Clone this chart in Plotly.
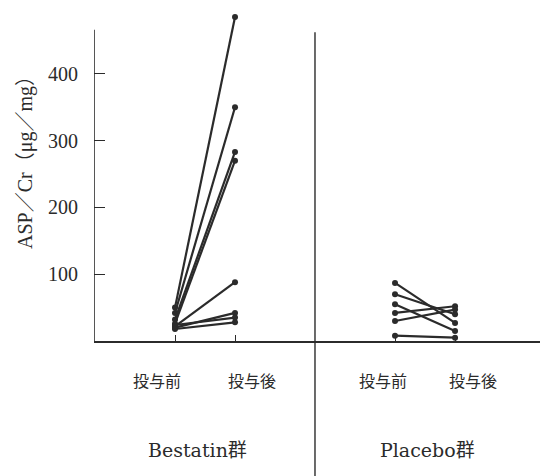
import plotly.graph_objects as go

# ASP/Cr (µg/mg) before and after administration, one line per patient
bestatin_pre = [50, 42, 32, 26, 22, 20, 24, 18]
bestatin_post = [485, 350, 283, 270, 88, 42, 35, 28]
placebo_pre = [87, 70, 55, 42, 30, 8]
placebo_post = [27, 40, 15, 52, 47, 5]

y_ticks = [100, 200, 300, 400]
phase_labels = ["投与前", "投与後"]
group_labels = ["Bestatin群", "Placebo群"]

# horizontal layout (x data units)
X_BEST = (1.0, 2.0)
X_PLAC = (4.667, 5.667)
X_MIN, X_MAX = -0.35, 7.083
X_DIVIDER = 3.333
Y_MAX = 497
Y_AXIS_TOP = 466

INK = "#2b2b2b"
SERIF = "Liberation Serif, Noto Sans CJK JP, serif"
WIDE_SERIF = "DejaVu Serif, Noto Sans CJK JP, serif"

fig = go.Figure()

for pre_vals, post_vals, xs in ((bestatin_pre, bestatin_post, X_BEST),
                                (placebo_pre, placebo_post, X_PLAC)):
    for a, b in zip(pre_vals, post_vals):
        fig.add_trace(go.Scatter(
            x=list(xs), y=[a, b], mode="lines+markers",
            line=dict(color=INK, width=2.2),
            marker=dict(color=INK, size=6),
            showlegend=False, hoverinfo="y"))

# y axis line (stops below the top of the plotting area)
fig.add_shape(type="line", xref="x", yref="y", x0=X_MIN, x1=X_MIN,
              y0=0, y1=Y_AXIS_TOP, line=dict(color=INK, width=1.6))
# divider between the two groups, running to the bottom edge
fig.add_shape(type="line", xref="x", yref="paper", x0=X_DIVIDER, x1=X_DIVIDER,
              y0=-0.45, y1=0.93, line=dict(color=INK, width=1.4))

# phase labels under each group (paper coordinates)
label_x = [(0.141, 0.354), (0.648, 0.850)]
for xs in label_x:
    for lx, txt in zip(xs, phase_labels):
        fig.add_annotation(x=lx, y=-0.121, xref="paper", yref="paper", text=txt,
                           xanchor="center", yanchor="middle", showarrow=False,
                           font=dict(family=SERIF, size=16, color=INK))
for gx, txt in zip([0.231, 0.747], group_labels):
    fig.add_annotation(x=gx, y=-0.328, xref="paper", yref="paper", text=txt,
                       xanchor="center", yanchor="middle", showarrow=False,
                       font=dict(family=WIDE_SERIF, size=19, color=INK))

# y axis title
fig.add_annotation(x=-0.155, y=0.554, xref="paper", yref="paper",
                   text="ASP／Cr（μg／mg）", textangle=-90, showarrow=False,
                   xanchor="center", yanchor="middle",
                   font=dict(family=SERIF, size=20, color=INK))

fig.update_layout(
    width=540, height=476,
    margin=dict(l=94, r=0, t=9, b=135),
    plot_bgcolor="white", paper_bgcolor="white",
    xaxis=dict(range=[X_MIN, X_MAX], showgrid=False, zeroline=False,
               showline=True, linecolor=INK, linewidth=1.6,
               tickvals=list(X_BEST) + list(X_PLAC), ticks="inside",
               ticklen=6, tickcolor=INK, showticklabels=False),
    yaxis=dict(range=[0, Y_MAX], showgrid=False, zeroline=False, showline=False,
               tickvals=y_ticks, ticks="inside", ticklen=11, tickwidth=1.4,
               tickcolor=INK, ticklabelstandoff=15,
               tickfont=dict(family=SERIF, size=20, color=INK)),
)

fig.write_html("out.html")
